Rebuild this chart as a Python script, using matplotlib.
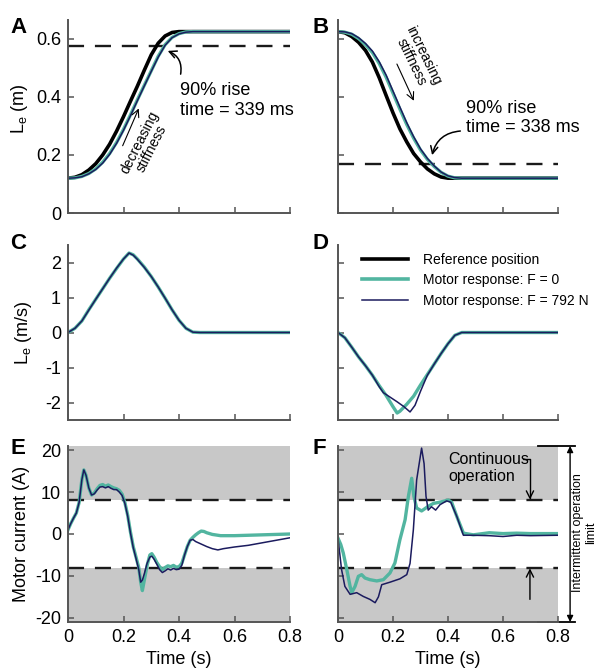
import matplotlib
matplotlib.use("Agg")
import matplotlib.pyplot as plt
from matplotlib.lines import Line2D

plt.rcParams['font.family'] = ['Liberation Sans', 'DejaVu Sans']
plt.rcParams['mathtext.default'] = 'regular'
plt.rcParams['axes.unicode_minus'] = False
plt.rcParams['font.size'] = 13

# colours
c_ref = 'black'
c_f0 = '#52b5a0'
c_f792 = '#1b1b5e'
c_axis = '#555555'

# ---- A: extension, position (m)
tA_ref = [0, 0.025, 0.05, 0.075, 0.1, 0.125, 0.15, 0.175, 0.2, 0.225, 0.25, 0.275, 0.3, 0.325, 0.35, 0.375, 0.4, 0.8]
pA_ref = [0.12, 0.123, 0.132, 0.148, 0.17, 0.2, 0.237, 0.282, 0.332, 0.385, 0.437, 0.492, 0.545, 0.585, 0.61, 0.622, 0.625, 0.625]
tA_mot = [0, 0.025, 0.05, 0.075, 0.1, 0.125, 0.15, 0.175, 0.2, 0.225, 0.25, 0.275, 0.3, 0.325, 0.35, 0.375, 0.4, 0.425, 0.45, 0.8]
pA_f0 = [0.12, 0.121, 0.126, 0.136, 0.152, 0.175, 0.205, 0.243, 0.288, 0.338, 0.39, 0.44, 0.49, 0.54, 0.58, 0.605, 0.618, 0.624, 0.625, 0.625]
pA_f792 = [0.12, 0.121, 0.125, 0.135, 0.15, 0.172, 0.202, 0.24, 0.285, 0.335, 0.387, 0.438, 0.488, 0.537, 0.578, 0.604, 0.617, 0.623, 0.625, 0.625]

# ---- B: flexion, position (m)
tB_ref = [0, 0.025, 0.05, 0.075, 0.1, 0.125, 0.15, 0.175, 0.2, 0.225, 0.25, 0.275, 0.3, 0.325, 0.35, 0.375, 0.4, 0.8]
pB_ref = [0.625, 0.621, 0.608, 0.588, 0.56, 0.52, 0.466, 0.405, 0.345, 0.29, 0.245, 0.205, 0.176, 0.152, 0.135, 0.124, 0.12, 0.12]
tB_mot = [0, 0.025, 0.05, 0.075, 0.1, 0.125, 0.15, 0.175, 0.2, 0.225, 0.25, 0.275, 0.3, 0.325, 0.35, 0.375, 0.4, 0.425, 0.45, 0.8]
pB_f0 = [0.625, 0.623, 0.616, 0.601, 0.58, 0.553, 0.515, 0.468, 0.413, 0.358, 0.305, 0.258, 0.217, 0.185, 0.16, 0.14, 0.127, 0.121, 0.12, 0.12]
pB_f792 = [0.625, 0.624, 0.618, 0.604, 0.584, 0.558, 0.521, 0.475, 0.42, 0.365, 0.311, 0.263, 0.221, 0.188, 0.162, 0.141, 0.128, 0.122, 0.12, 0.12]

# ---- C: extension velocity (m/s)
tC = [0, 0.025, 0.05, 0.075, 0.1, 0.125, 0.15, 0.175, 0.2, 0.22, 0.235, 0.25, 0.275, 0.3, 0.325, 0.35, 0.375, 0.4, 0.425, 0.45, 0.475, 0.8]
vC_f0 = [0, 0.12, 0.33, 0.65, 0.95, 1.25, 1.55, 1.83, 2.1, 2.27, 2.22, 2.1, 1.87, 1.6, 1.3, 0.98, 0.65, 0.35, 0.12, 0.01, 0, 0]
vC_f792 = [0, 0.12, 0.33, 0.64, 0.95, 1.25, 1.55, 1.84, 2.1, 2.27, 2.21, 2.09, 1.86, 1.6, 1.3, 0.98, 0.65, 0.35, 0.12, 0.01, 0, 0]

# ---- D: flexion velocity (m/s)
tD_f0 = [0, 0.025, 0.05, 0.075, 0.1, 0.125, 0.15, 0.175, 0.2, 0.215, 0.225, 0.25, 0.275, 0.3, 0.325, 0.35, 0.375, 0.4, 0.425, 0.45, 0.8]
vD_f0 = [0, -0.15, -0.42, -0.7, -0.95, -1.22, -1.52, -1.8, -2.12, -2.3, -2.25, -2.05, -1.82, -1.5, -1.2, -0.9, -0.6, -0.32, -0.08, 0, 0]
tD_f792 = [0, 0.025, 0.05, 0.075, 0.1, 0.125, 0.15, 0.165, 0.19, 0.215, 0.24, 0.262, 0.28, 0.3, 0.325, 0.35, 0.375, 0.4, 0.425, 0.45, 0.8]
vD_f792 = [0, -0.15, -0.42, -0.7, -0.95, -1.22, -1.55, -1.72, -1.85, -1.98, -2.12, -2.27, -2.08, -1.68, -1.22, -0.9, -0.6, -0.32, -0.08, 0, 0]

# ---- E: extension, motor current (A)
tE_f0 = [0, 0.01, 0.02, 0.03, 0.04, 0.05, 0.057, 0.065, 0.075, 0.085, 0.095, 0.105, 0.115, 0.125, 0.135, 0.145,
         0.155, 0.165, 0.175, 0.185, 0.195, 0.205, 0.215, 0.225, 0.235, 0.245, 0.255, 0.262, 0.268, 0.275, 0.285,
         0.295, 0.302, 0.31, 0.32, 0.33, 0.34, 0.35, 0.36, 0.37, 0.38, 0.39, 0.4, 0.41, 0.42, 0.43, 0.44, 0.45,
         0.46, 0.47, 0.48, 0.49, 0.5, 0.52, 0.55, 0.6, 0.65, 0.7, 0.75, 0.8]
iE_f0 = [1.0, 2.5, 3.8, 5.0, 7.5, 13.0, 15.3, 14.0, 11.0, 9.3, 9.8, 10.8, 11.6, 11.8, 11.4, 11.7,
         11.3, 11.0, 10.8, 10.4, 9.5, 7.5, 4.5, 0.5, -3.0, -5.5, -8.0, -11.5, -13.5, -11.0, -7.5,
         -5.0, -4.7, -5.5, -6.8, -7.8, -8.5, -8.0, -7.6, -7.8, -7.5, -7.9, -7.8, -7.0, -5.0, -3.0, -1.5, -0.8,
         -0.2, 0.3, 0.7, 0.6, 0.3, -0.1, -0.4, -0.4, -0.3, -0.2, -0.1, 0.0]
tE_f792 = [0, 0.01, 0.02, 0.03, 0.04, 0.05, 0.057, 0.065, 0.075, 0.085, 0.095, 0.105, 0.115, 0.125, 0.135, 0.145,
           0.155, 0.165, 0.175, 0.185, 0.195, 0.205, 0.215, 0.225, 0.235, 0.245, 0.255, 0.262, 0.268, 0.275, 0.285,
           0.295, 0.302, 0.31, 0.32, 0.33, 0.34, 0.35, 0.36, 0.37, 0.38, 0.39, 0.4, 0.41, 0.42, 0.43, 0.44, 0.45,
           0.46, 0.48, 0.5, 0.52, 0.54, 0.56, 0.6, 0.65, 0.7, 0.75, 0.8]
iE_f792 = [1.0, 2.5, 3.8, 5.0, 7.5, 13.0, 15.3, 14.0, 11.0, 9.3, 9.6, 10.5, 11.2, 11.3, 11.0, 11.3,
           10.9, 10.6, 10.6, 10.0, 9.2, 7.3, 4.3, 0.3, -3.2, -5.8, -8.5, -11.5, -11.0, -9.5, -7.0,
           -5.5, -5.3, -6.0, -7.2, -8.5, -9.2, -8.8, -8.3, -8.6, -8.2, -8.5, -8.4, -7.5, -5.0, -3.0, -1.5, -1.3,
           -1.8, -2.4, -3.0, -3.5, -3.8, -3.5, -3.1, -2.7, -2.1, -1.5, -0.9]

# ---- F: flexion, motor current (A)
tF_f0 = [0, 0.01, 0.019, 0.032, 0.044, 0.05, 0.062, 0.074, 0.086, 0.098, 0.116, 0.141, 0.165, 0.189, 0.207,
         0.225, 0.244, 0.256, 0.268, 0.276, 0.286, 0.304, 0.328, 0.347, 0.371, 0.401, 0.413, 0.432, 0.456,
         0.492, 0.55, 0.6, 0.65, 0.7, 0.8]
iF_f0 = [-1.0, -2.5, -4.5, -8.5, -12.5, -14.0, -12.5, -10.1, -9.7, -10.5, -10.9, -11.2, -10.9, -9.3, -6.9,
         -1.4, 3.4, 9.0, 13.3, 9.0, 6.2, 5.5, 6.6, 7.3, 7.6, 8.1, 7.6, 4.2, 0.2,
         -0.2, 0.3, 0.1, 0.2, 0.1, 0.1]
tF_f792 = [0, 0.013, 0.025, 0.044, 0.068, 0.092, 0.116, 0.135, 0.147, 0.159, 0.189, 0.225, 0.25, 0.262, 0.274,
           0.286, 0.304, 0.313, 0.32, 0.328, 0.34, 0.355, 0.371, 0.395, 0.41, 0.432, 0.456, 0.492, 0.55, 0.6,
           0.65, 0.7, 0.8]
iF_f792 = [-1.0, -8.5, -12.5, -14.4, -14.0, -14.9, -15.6, -16.4, -15.0, -12.1, -11.5, -10.7, -9.7, -7.0, 1.0,
           12.9, 20.5, 16.8, 9.0, 5.7, 6.5, 5.7, 7.0, 7.9, 7.6, 4.2, -0.3, -0.3, -0.4, -0.6,
           -0.3, -0.4, -0.3]

rise_ext = 0.5745
rise_flex = 0.1705
cont_limit = 8


def style_axes(ax):
    for s in ['top', 'right']:
        ax.spines[s].set_visible(False)
    for s in ['left', 'bottom']:
        ax.spines[s].set_color(c_axis)
        ax.spines[s].set_linewidth(1.4)
    ax.tick_params(direction='in', length=4, width=1.1, color=c_axis, labelsize=13, pad=5)
    ax.set_xlim(0, 0.8)
    ax.set_xticks([0, 0.2, 0.4, 0.6, 0.8])


fig = plt.figure(figsize=(5.96, 6.71), dpi=100)
W, H = 596., 671.

def add_ax(l, r, t, b):
    return fig.add_axes([l / W, 1 - b / H, (r - l) / W, (b - t) / H])

axA = add_ax(68, 290, 20, 213)
axB = add_ax(338, 558, 20, 213)
axC = add_ax(68, 290, 245, 420)
axD = add_ax(338, 558, 245, 420)
axE = add_ax(68, 290, 446, 622)
axF = add_ax(338, 558, 446, 622)

dash = (6.8, 4.6)
dash_lw = 1.7

# position
for ax, tr, pr, tm, p0, p1, rl in [(axA, tA_ref, pA_ref, tA_mot, pA_f0, pA_f792, rise_ext),
                                   (axB, tB_ref, pB_ref, tB_mot, pB_f0, pB_f792, rise_flex)]:
    style_axes(ax)
    ax.axhline(rl, color='#1a1a1a', lw=dash_lw, dashes=dash)
    ax.plot(tr, pr, color=c_ref, lw=2.6)
    ax.plot(tm, p0, color=c_f0, lw=2.4)
    ax.plot(tm, p1, color=c_f792, lw=1.1)
    ax.set_ylim(0, 0.665)
    ax.set_yticks([0, 0.2, 0.4, 0.6])
    ax.set_xticklabels([])
axA.set_yticklabels(['0', '0.2', '0.4', '0.6'])
axB.set_yticklabels([])
axA.set_ylabel('L$_e$ (m)')
axA.yaxis.set_label_coords(-0.17, 0.54)

axA.annotate('', xy=(0.35, 0.562), xytext=(0.404, 0.469),
             arrowprops=dict(arrowstyle='->', color='black', lw=1.1, connectionstyle='arc3,rad=0.45'))
axA.text(0.404, 0.45, '90% rise\ntime = 339 ms', fontsize=13, va='top', ha='left')
axA.annotate('', xy=(0.259, 0.369), xytext=(0.193, 0.223),
             arrowprops=dict(arrowstyle='->', color='black', lw=0.8))
axA.text(0.279, 0.233, 'decreasing\nstiffness', fontsize=10, rotation=63,
         rotation_mode='anchor', ha='center', va='center', linespacing=0.95)

axB.annotate('', xy=(0.34, 0.19), xytext=(0.455, 0.283),
             arrowprops=dict(arrowstyle='->', color='black', lw=1.1, connectionstyle='arc3,rad=0.4'))
axB.text(0.465, 0.39, '90% rise\ntime = 338 ms', fontsize=13, va='top', ha='left')
axB.annotate('', xy=(0.28, 0.378), xytext=(0.21, 0.522),
             arrowprops=dict(arrowstyle='->', color='black', lw=0.8))
axB.text(0.29, 0.531, 'increasing\nstiffness', fontsize=10, rotation=-64,
         rotation_mode='anchor', ha='center', va='center', linespacing=0.95)

# velocity
style_axes(axC)
axC.plot(tC, vC_f0, color=c_f0, lw=2.4)
axC.plot(tC, vC_f792, color=c_f792, lw=1.1)
style_axes(axD)
axD.plot(tD_f0, vD_f0, color=c_f0, lw=2.4)
axD.plot(tD_f792, vD_f792, color=c_f792, lw=1.1)
for ax in (axC, axD):
    ax.set_ylim(-2.5, 2.5)
    ax.set_yticks([-2, -1, 0, 1, 2])
    ax.set_xticklabels([])
axD.set_yticklabels([])
axC.set_ylabel('L$_e$ (m/s)')
axC.yaxis.set_label_coords(-0.155, 0.5)

handles = [Line2D([], [], color=c_ref, lw=2.6),
           Line2D([], [], color=c_f0, lw=2.6),
           Line2D([], [], color=c_f792, lw=1.1)]
labels = ['Reference position', 'Motor response: F = 0', 'Motor response: F = 792 N']
fig.legend(handles, labels, loc='upper left', bbox_to_anchor=(362 / W, 1 - 253 / H),
           frameon=False, fontsize=10, handlelength=3.3, handletextpad=1.1,
           labelspacing=0.45, borderpad=0, borderaxespad=0)

# current
for ax, t0, i0, t1, i1 in [(axE, tE_f0, iE_f0, tE_f792, iE_f792),
                           (axF, tF_f0, iF_f0, tF_f792, iF_f792)]:
    style_axes(ax)
    ax.axhspan(cont_limit, 21, color='#c8c8c8', lw=0, zorder=0)
    ax.axhspan(-21, -cont_limit, color='#c8c8c8', lw=0, zorder=0)
    ax.axhline(cont_limit, color='#1a1a1a', lw=dash_lw, dashes=dash)
    ax.axhline(-cont_limit, color='#1a1a1a', lw=dash_lw, dashes=dash)
    ax.plot(t0, i0, color=c_f0, lw=2.4)
    ax.plot(t1, i1, color=c_f792, lw=1.1)
    ax.set_ylim(-21, 21)
    ax.set_yticks([-20, -10, 0, 10, 20])
    ax.set_xticklabels(['0', '0.2', '0.4', '0.6', '0.8'])
    ax.set_xlabel('Time (s)')
    ax.xaxis.set_label_coords(0.5, -0.165)
axF.set_yticklabels([])
axE.set_ylabel('Motor current (A)')
axE.yaxis.set_label_coords(-0.17, 0.5)

axF.text(0.401, 15.7, 'Continuous\noperation', fontsize=11.5, ha='left', va='center')
axF.annotate('', xy=(0.698, cont_limit + 0.2), xytext=(0.672, 17.9),
             arrowprops=dict(arrowstyle='->', color='black', lw=1.0,
                             connectionstyle='angle,angleA=0,angleB=90,rad=0', shrinkA=0, shrinkB=0))
axF.annotate('', xy=(0.698, -cont_limit - 0.2), xytext=(0.698, -15.6),
             arrowprops=dict(arrowstyle='->', color='black', lw=1.0, shrinkA=0, shrinkB=0))

# intermittent limit bracket outside the axes
for yy in (21, -21):
    axF.plot([0.727, 0.862], [yy, yy], color='black', lw=1.3, clip_on=False)
axF.annotate('', xy=(0.844, 21), xytext=(0.844, -21),
             arrowprops=dict(arrowstyle='<|-|>', color='black', lw=1.0, shrinkA=0, shrinkB=0,
                             mutation_scale=9), annotation_clip=False)
fig.text(584.5 / W, 1 - 533 / H, 'Intermittent operation\nlimit', fontsize=9, rotation=90,
         ha='center', va='center', linespacing=1.05)

# panel letters
for lab, x, y in [('A', 10, 17), ('B', 312, 17), ('C', 10, 233), ('D', 312, 233), ('E', 10, 438), ('F', 312, 438)]:
    fig.text(x / W, 1 - y / H, lab, fontsize=16, fontweight='bold', ha='left', va='top')

fig.savefig('out.png', dpi=100)
